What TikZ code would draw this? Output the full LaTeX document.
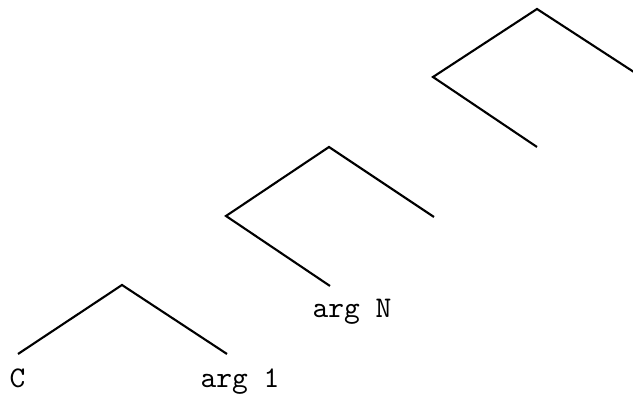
\documentclass[tikz,border=0pt]{standalone}
\begin{document}
\begin{tikzpicture}[x=0.333pt,y=-0.333pt,
  branch/.style={line width=0.7pt},
  lbl/.style={font=\ttfamily, anchor=base, inner sep=0pt}]
\useasboundingbox (0,0) rectangle (633,397);
% top tree
\coordinate (t) at (537,9);
\coordinate (tl) at (433,77);
\coordinate (tr) at (640,76);
\coordinate (tb) at (537,147);
% middle tree
\coordinate (m) at (329,147);
\coordinate (ml) at (226,216);
\coordinate (mr) at (434,217);
\coordinate (mb) at (330,286);
% bottom tree
\coordinate (b) at (122,285);
\coordinate (bl) at (18,354);
\coordinate (br) at (227,354);
\begin{scope}
\clip (0,0) rectangle (633,397);
\draw[branch] (tr) -- (t) -- (tl) -- (tb);
\end{scope}
\draw[branch] (mr) -- (m) -- (ml) -- (mb);
\draw[branch] (bl) -- (b) -- (br);
\node[lbl] (c) at (17.5,388) {C};
\node[lbl] (a1) at (240,388) {arg 1};
\node[lbl] (aN) at (352,318) {arg N};
\end{tikzpicture}
\end{document}
